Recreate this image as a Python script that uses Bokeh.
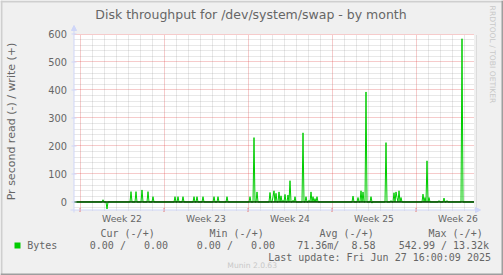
import math
import numpy as np
from bokeh.plotting import figure
from bokeh.core.properties import value
from bokeh.models import (FixedTicker, Label, Arrow, NormalHead, Grid,
                          BoxAnnotation, Range1d, ColumnDataSource)
from bokeh.embed import file_html
from bokeh.resources import INLINE

# ---------------- data ----------------
TITLE = "Disk throughput for /dev/system/swap - by month"
Y_LABEL = "Pr second read (-) / write (+)"
WEEKS = [22, 23, 24, 25, 26]
Y_TICKS = [0, 100, 200, 300, 400, 500, 600]
Y_MINOR_STEP = 20
Y_MIN, Y_MAX = -28.6, 600

# time axis: days since the left edge of the graph (first Monday boundary at 0.5)
SPAN_DAYS = 400 / 12
FIRST_WEEK_START = 0.5
SAMPLES_PER_DAY = 12          # one rrd sample every 2 hours

# write (+) peaks: day, bytes/s
write_days = [2.44, 4.78, 5.19, 5.69, 6.17, 6.61, 8.42, 8.69, 9.12, 10.04,
              10.22, 10.71, 11.69, 12.03, 12.71, 14.69, 15.03, 15.21, 16.36,
              16.56, 16.69, 16.83, 17.06, 17.25, 17.44, 17.61, 17.81, 18.00,
              18.22, 18.44, 19.11, 19.33, 19.56, 19.78, 19.94, 20.08, 20.22,
              23.28, 23.69, 23.94, 24.11, 24.31, 24.78, 26.03, 26.44, 26.67,
              26.81, 26.94, 27.11, 27.22, 29.08, 29.25, 29.39, 29.58, 30.42,
              30.86, 31.11, 32.31]
write_vals = [8, 37, 37, 43, 37, 19, 19, 19, 19, 19,
              19, 19, 19, 19, 19, 19, 230, 36, 34,
              19, 40, 31, 36, 22, 6, 27, 25, 76,
              6, 19, 247, 19, 6, 36, 19, 12, 19,
              21, 16, 40, 36, 393, 19, 212, 5, 33,
              36, 16, 40, 16, 28, 16, 147, 16, 5,
              14, 5, 583]
# read (-) peaks: day, bytes/s (drawn below zero)
read_days = [2.78, 24.86]
read_vals = [25, 4]

LEGEND_NAME = "Bytes"
LEGEND_COLS = ["Cur (-/+)", "Min (-/+)", "Avg (-/+)", "Max (-/+)"]
LEGEND_VALS = ["0.00 /   0.00", "0.00 /   0.00", "71.36m/  8.58", "542.99 / 13.32k"]
LAST_UPDATE = "Last update: Fri Jun 27 16:00:09 2025"
MUNIN = "Munin 2.0.63"
RRD = "RRDTOOL / TOBI OETIKER"

# ---------------- series on the 2-hour sample grid ----------------
n = int(round(SPAN_DAYS * SAMPLES_PER_DAY)) + 1
t = np.arange(n) / SAMPLES_PER_DAY
write = np.zeros(n)
read = np.zeros(n)
for d, v in zip(write_days, write_vals):
    write[int(round(d * SAMPLES_PER_DAY))] = v
for d, v in zip(read_days, read_vals):
    read[int(round(d * SAMPLES_PER_DAY))] = v
src = ColumnDataSource(dict(t=t, write=write, read=-read))

boundaries = [FIRST_WEEK_START + 7 * i for i in range(len(WEEKS))]
centers = [b + 3.5 for b in boundaries]
day_lines = [FIRST_WEEK_START + k for k in range(int(SPAN_DAYS) + 1)
             if (k % 7) != 0]
y_minor = [v for v in range(-Y_MINOR_STEP, Y_TICKS[-1], Y_MINOR_STEP)
           if v % 100 != 0]

# ---------------- layout (canvas pixels) ----------------
W, H = 503, 275
PL, PT, PW, PH = 73.5, 33.5, 400, 176      # graph area inside the canvas
FONT_COLOR = "#666666"
AXIS_COLOR = "#CFD6F8"
GRID = "#8F8F8F"
MGRID = "#DE3030"
SANS = "DejaVu Sans"
MONO = "DejaVu Sans Mono"
NBSP = "\u00a0"

kx = PW / SPAN_DAYS
ky = PH / (Y_MAX - Y_MIN)
x_range = Range1d(-PL / kx, (W - PL) / kx)
y_range = Range1d(Y_MAX - (H - PT) / ky, Y_MAX + PT / ky)

p = figure(width=W, height=H, output_backend="svg", toolbar_location=None,
           title_location=None, x_axis_type=None, y_axis_type=None,
           min_border=0, x_range=x_range, y_range=y_range,
           background_fill_color="#F0F0F0", border_fill_color="#F0F0F0",
           outline_line_color=None)

# white graph canvas
p.add_layout(BoxAnnotation(left=0, right=SPAN_DAYS, bottom=Y_MIN, top=Y_MAX,
                           fill_color="#FFFFFF", fill_alpha=1, line_color=None,
                           level="image"))

# grids
def add_grid(dim, major, minor, bounds, cross):
    g = Grid(dimension=dim, ticker=FixedTicker(ticks=major, minor_ticks=minor),
             bounds=bounds,
             grid_line_color=MGRID, grid_line_alpha=0.5, grid_line_dash="1 1",
             minor_grid_line_color=GRID, minor_grid_line_alpha=0.4,
             minor_grid_line_dash="1 1")
    if "cross_bounds" in g.properties():
        g.cross_bounds = cross
        p.add_layout(g)
    else:
        for ticks, color, alpha in ((minor, GRID, 0.4), (major, MGRID, 0.5)):
            if dim == 0:
                p.segment(x0=ticks, x1=ticks, y0=[cross[0]] * len(ticks),
                          y1=[cross[1]] * len(ticks), line_color=color,
                          line_alpha=alpha, line_dash="1 1", level="underlay")
            else:
                p.segment(y0=ticks, y1=ticks, x0=[cross[0]] * len(ticks),
                          x1=[cross[1]] * len(ticks), line_color=color,
                          line_alpha=alpha, line_dash="1 1", level="underlay")

add_grid(0, boundaries, day_lines, (0, SPAN_DAYS), (Y_MIN, Y_MAX))
add_grid(1, Y_TICKS, y_minor, (Y_MIN, Y_MAX), (0, SPAN_DAYS))

# data
p.line("t", "write", source=src, line_color="#00CC00", line_width=1)
p.line("t", "read", source=src, line_color="#00CC00", line_width=1)
p.line([t[0], t[-1]], [0, 0], line_color="#000000", line_width=1)

# axis ticks
p.scatter(x=[0] * len(Y_TICKS), y=Y_TICKS, marker="dash", size=5,
          line_color=AXIS_COLOR)
p.scatter(x=boundaries, y=[Y_MIN] * len(boundaries), marker="dash", angle=math.pi / 2,
          size=4, line_color=MGRID, line_alpha=0.6)

# tick labels
p.text(x=[0] * len(Y_TICKS), y=Y_TICKS, text=[str(v) for v in Y_TICKS],
       x_offset=-7, text_align="right", text_baseline="middle",
       text_font=value(SANS), text_font_size=value("9.8px"), text_color=FONT_COLOR)
p.text(x=centers, y=[Y_MIN] * len(centers), text=[f"Week {w}" for w in WEEKS],
       y_offset=8, text_align="center", text_baseline="middle",
       text_font=value(SANS), text_font_size=value("9.2px"), text_color=FONT_COLOR)

# screen helpers (frame == whole canvas, y measured from the bottom)
def sx(X):
    return X

def sy(Y):
    return H - Y

def arrow(x0, y0, x1, y1):
    p.add_layout(Arrow(x_start=sx(x0), y_start=sy(y0), x_end=sx(x1), y_end=sy(y1),
                       start_units="screen", end_units="screen",
                       line_color=AXIS_COLOR, line_width=1,
                       end=NormalHead(size=5, fill_color=AXIS_COLOR,
                                      line_color=AXIS_COLOR)))

arrow(70, PT + PH, 480, PT + PH)
arrow(PL, 212, PL, 25)

def label(text, X, Y, size, font=SANS, color=FONT_COLOR, align="left", angle=0.0):
    # keep runs of spaces (monospace legend alignment) as non-breaking spaces
    text = text.replace(" ", NBSP) if font == MONO else text
    p.add_layout(Label(x=sx(X), y=sy(Y), x_units="screen", y_units="screen",
                       text=text, text_font=font, text_font_size=size,
                       text_color=color, text_align=align,
                       text_baseline="middle", angle=angle))

label(TITLE, 250.5, 14, "12.5px", align="center")
label(Y_LABEL, 11, 121, "11px", align="center", angle=math.pi / 2)
label(RRD, 491.5, 54, "7.6px", color="#C8C8C8", align="center", angle=-math.pi / 2)
label(MUNIN, 251.7, 264.5, "7.6px", color="#C8C8C8", align="center")

label(LEGEND_NAME, 26.7, 245, "10px", font=MONO)
for txt, X in zip(LEGEND_COLS, [100, 209, 319, 428]):
    label(txt, X, 233.3, "10px", font=MONO)
for txt, X in zip(LEGEND_VALS, [89.3, 196.3, 296.7, 398.3]):
    label(txt, X, 245, "10px", font=MONO)
label(LAST_UPDATE, 267.7, 257.3, "10px", font=MONO)

def box(l, r, t_, b, color):
    p.add_layout(BoxAnnotation(left=sx(l), right=sx(r), top=sy(t_), bottom=sy(b),
                               left_units="screen", right_units="screen",
                               top_units="screen", bottom_units="screen",
                               fill_color=color, fill_alpha=1, line_color=None))

# legend swatch
box(14, 20, 242, 248, "#00CC00")
# 3D border (light top/left, dark bottom/right)
box(0, W, 0, 2, "#CFCFCF")
box(0, 2, 0, H, "#CFCFCF")
box(W - 2, W, 0, H, "#9E9E9E")
box(0, W, H - 2, H, "#9E9E9E")

open("out.html", "w").write(file_html(p, INLINE))
